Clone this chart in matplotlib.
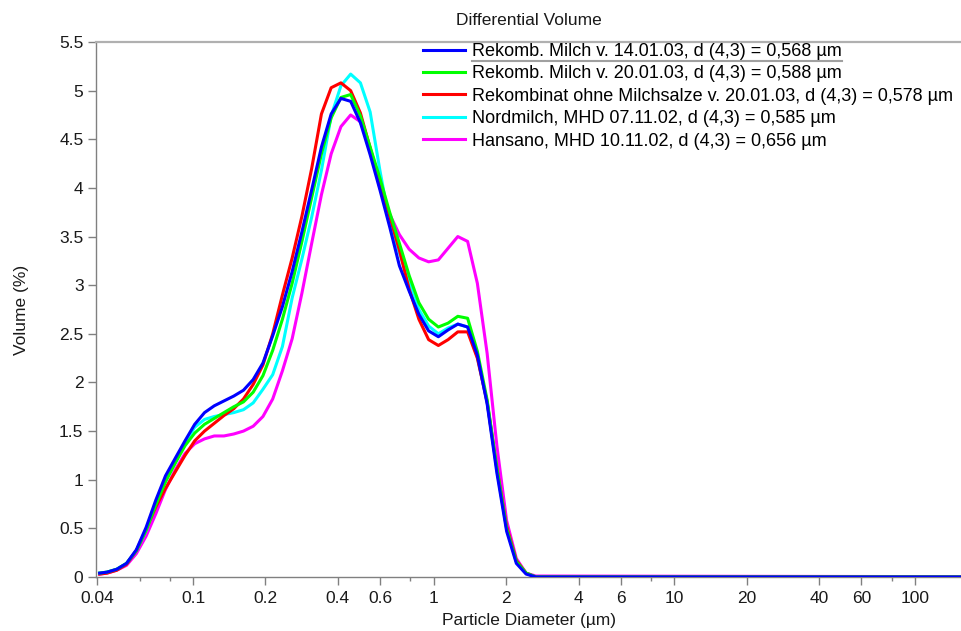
import numpy as np
import matplotlib
matplotlib.use("Agg")
import matplotlib.pyplot as plt
from matplotlib.lines import Line2D
from matplotlib.ticker import FixedLocator, NullFormatter

plt.rcParams['font.family'] = ['Liberation Sans', 'DejaVu Sans']

# Kanal-Durchmesser (µm)
diameter = [0.0409, 0.0439, 0.0482, 0.0529, 0.0581, 0.0638, 0.0700, 0.0768, 0.0843, 0.0926,
            0.1016, 0.1116, 0.1225, 0.1344, 0.1476, 0.1620, 0.1778, 0.1952, 0.2143, 0.2352,
            0.2582, 0.2835, 0.3112, 0.3416, 0.3750, 0.4117, 0.4519, 0.4961, 0.5446, 0.5978,
            0.6563, 0.7204, 0.7908, 0.8681, 0.9529, 1.046, 1.148, 1.260, 1.384, 1.519,
            1.668, 1.831, 2.010, 2.206, 2.422, 2.659, 2000.0]

milch_1401 = [0.04, 0.05, 0.08, 0.14, 0.28, 0.51, 0.79, 1.04, 1.22, 1.40,
              1.57, 1.69, 1.76, 1.81, 1.86, 1.92, 2.03, 2.20, 2.48, 2.78,
              3.14, 3.55, 3.98, 4.42, 4.76, 4.92, 4.89, 4.67, 4.34, 3.98,
              3.60, 3.20, 2.94, 2.70, 2.53, 2.47, 2.54, 2.60, 2.57, 2.28,
              1.78, 1.07, 0.47, 0.14, 0.03, 0.0, 0.0]

milch_2001 = [0.04, 0.05, 0.08, 0.14, 0.27, 0.48, 0.74, 0.98, 1.17, 1.35,
              1.48, 1.57, 1.63, 1.69, 1.75, 1.80, 1.90, 2.07, 2.33, 2.65,
              3.02, 3.45, 3.90, 4.35, 4.72, 4.93, 4.96, 4.74, 4.42, 4.10,
              3.75, 3.43, 3.10, 2.82, 2.65, 2.57, 2.61, 2.68, 2.66, 2.32,
              1.82, 1.12, 0.50, 0.16, 0.04, 0.0, 0.0]

rekombinat = [0.03, 0.04, 0.07, 0.13, 0.27, 0.49, 0.72, 0.91, 1.08, 1.25,
              1.40, 1.50, 1.58, 1.66, 1.73, 1.83, 1.98, 2.18, 2.50, 2.90,
              3.28, 3.71, 4.20, 4.76, 5.03, 5.08, 5.00, 4.77, 4.41, 4.06,
              3.71, 3.36, 2.96, 2.65, 2.44, 2.38, 2.44, 2.52, 2.52, 2.25,
              1.80, 1.12, 0.52, 0.17, 0.04, 0.0, 0.0]

nordmilch = [0.04, 0.05, 0.08, 0.14, 0.27, 0.48, 0.74, 0.98, 1.18, 1.38,
             1.54, 1.62, 1.65, 1.67, 1.69, 1.72, 1.79, 1.93, 2.08, 2.37,
             2.87, 3.27, 3.70, 4.18, 4.74, 5.05, 5.17, 5.08, 4.78, 4.18,
             3.64, 3.33, 3.03, 2.75, 2.58, 2.50, 2.56, 2.60, 2.57, 2.26,
             1.80, 1.10, 0.50, 0.16, 0.04, 0.0, 0.0]

hansano = [0.03, 0.04, 0.07, 0.12, 0.24, 0.42, 0.65, 0.90, 1.10, 1.27,
           1.37, 1.42, 1.45, 1.45, 1.47, 1.50, 1.55, 1.65, 1.83, 2.12,
           2.45, 2.92, 3.43, 3.93, 4.35, 4.63, 4.75, 4.68, 4.40, 4.00,
           3.73, 3.52, 3.37, 3.28, 3.24, 3.26, 3.38, 3.50, 3.45, 3.02,
           2.30, 1.35, 0.58, 0.19, 0.04, 0.01, 0.0]

labels = ["Rekomb. Milch v. 14.01.03, d (4,3) = 0,568 µm",
          "Rekomb. Milch v. 20.01.03, d (4,3) = 0,588 µm",
          "Rekombinat ohne Milchsalze v. 20.01.03, d (4,3) = 0,578 µm",
          "Nordmilch, MHD 07.11.02, d (4,3) = 0,585 µm",
          "Hansano, MHD 10.11.02, d (4,3) = 0,656 µm"]
series = [milch_1401, milch_2001, rekombinat, nordmilch, hansano]
colors = ['#0000ff', '#00ff00', '#ff0000', '#00ffff', '#ff00ff']

major_ticks = [0.04, 0.1, 0.2, 0.4, 0.6, 1, 2, 4, 6, 10, 20, 40, 60, 100]
minor_ticks = [0.06, 0.08, 0.8, 8, 80]

fig = plt.figure(figsize=(9.62, 6.31), dpi=100)
ax = fig.add_axes([96 / 962, 54 / 631, 866 / 962, 535 / 631])

for i, (vals, lab, c) in enumerate(zip(series, labels, colors)):
    ax.plot(diameter, vals, color=c, lw=2.2, label=lab, zorder=10 - i)

ax.set_xscale('log')
ax.set_xlim(0.0395, 157)
ax.set_ylim(0, 5.5)
ax.xaxis.set_major_locator(FixedLocator(major_ticks))
ax.xaxis.set_minor_locator(FixedLocator(minor_ticks))
ax.xaxis.set_minor_formatter(NullFormatter())
ax.set_xticklabels(["%g" % t for t in major_ticks])
ax.set_yticks(np.arange(0, 5.51, 0.5))
ax.set_yticklabels(["%g" % t for t in np.arange(0, 5.51, 0.5)])

ax.spines['right'].set_visible(False)
ax.spines['top'].set_color('#b0b0b0')
ax.spines['top'].set_linewidth(1.6)
for s in ['left', 'bottom']:
    ax.spines[s].set_color('#808080')
    ax.spines[s].set_linewidth(1.0)
ax.tick_params(which='major', length=6, width=1, color='#808080', labelsize=12.5,
               labelcolor='#1a1a1a', pad=3)
ax.tick_params(axis='x', which='major', pad=4)
ax.tick_params(which='minor', length=3, width=1, color='#808080')

ax.set_xlabel("Particle Diameter (µm)", fontsize=12.5, color='#1a1a1a', labelpad=5)
ax.set_ylabel("Volume (%)", fontsize=12.5, color='#1a1a1a', labelpad=22)
ax.set_title("Differential Volume", fontsize=12.5, color='#1a1a1a', pad=12)

leg = ax.legend(loc='upper left', bbox_to_anchor=(0.377, 1.0), frameon=False,
                fontsize=13, handlelength=2.3, handletextpad=0.4,
                labelspacing=0.3, borderpad=0, borderaxespad=0.05)
for h in leg.get_lines():
    h.set_linewidth(2.2)

# Unterstreichung des ersten Legendeneintrags
fig.canvas.draw()
bb = leg.get_texts()[0].get_window_extent()
fig.add_artist(Line2D([bb.x0 / 962, bb.x1 / 962], [(bb.y0 - 1) / 631] * 2,
                      color='#a0a0a0', lw=1.5))

fig.savefig("out.png", dpi=100)
